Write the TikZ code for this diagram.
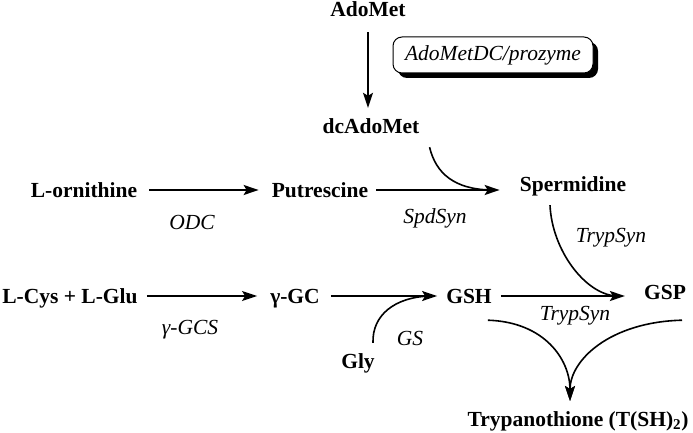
\documentclass[tikz,border=0pt]{standalone}
\usepackage{fontspec}
\setmainfont{Liberation Serif}
\usetikzlibrary{arrows.meta,shadows}
\begin{document}
\begin{tikzpicture}[x=1pt,y=-1pt,
 chem/.style={font=\fontsize{21.5}{25}\selectfont\bfseries, inner sep=0pt, text height=14pt, text depth=0pt},
 enz/.style={font=\fontsize{21.5}{25}\selectfont\itshape, inner sep=0pt},
 ln/.style={line width=1.6pt},
 arr/.style={line width=1.6pt, -{Stealth[length=15pt,width=10pt,inset=3pt]}}]
\useasboundingbox (0,0) rectangle (693,433);
% compounds
\node[chem] (adomet) at (368,10) {AdoMet};
\node[chem] (dcadomet) at (371,126) {dcAdoMet};
\node[chem] (orn) at (84,190) {L-ornithine};
\node[chem] (put) at (320,190) {Putrescine};
\node[chem] (spd) at (573,184) {Spermidine};
\node[chem] (cysglu) at (70,296) {L-Cys + L-Glu};
\node[chem] (gc) at (295,296) {γ-GC};
\node[chem] (gsh) at (469,296) {GSH};
\node[chem] (gsp) at (665,292) {GSP};
\node[chem] (gly) at (358,361) {Gly};
\node[chem] (tryp) at (578,419) {Trypanothione (T(SH)\textsubscript{2})};
% enzymes
\node[enz] (odc) at (192,222) {ODC};
\node[enz] (spdsyn) at (435,218) {SpdSyn};
\node[enz] (ts1) at (611,238) {TrypSyn};
\node[enz] (gcs) at (190,330) {γ-GCS};
\node[enz] (gs) at (410,338) {GS};
\node[enz] (ts2) at (575,316) {TrypSyn};
\node[enz, draw, line width=1pt, rounded corners=9pt, fill=white,
  minimum width=200pt, minimum height=36pt,
  drop shadow={shadow xshift=5pt, shadow yshift=-5pt, opacity=1, fill=black}]
  (dc) at (493,55) {AdoMetDC/prozyme};
% straight arrows
\draw[arr, shorten <=15pt, shorten >=11pt] (adomet.south) -- (adomet.south |- dcadomet.north);
\draw[arr, shorten <=12pt, shorten >=13pt] (orn.east) -- (put.west);
\draw[arr, shorten <=8pt, shorten >=20pt] (put.east) -- (put.east -| spd.west);
\draw[arr, shorten <=9pt, shorten >=13pt] (cysglu.east) -- (gc.west);
\draw[arr, shorten <=11pt, shorten >=9pt] (gc.east) -- (gsh.west);
\draw[arr, shorten <=9pt, shorten >=19pt] (gsh.east) -- (gsh.east -| gsp.west);
% curved side arrows
\draw[ln] ([shift={(10,14)}]dcadomet.south east) .. controls (436,174) and (455,189) .. (490,190);
\draw[ln] ([shift={(-23,14)}]spd.south) .. controls (552,250) and (585,294) .. (616,296);
\draw[ln] ([shift={(15,-11)}]gly.north) .. controls (372,315) and (395,297) .. (430,296);
\coordinate (tip) at (570,401);
\draw[arr] ([shift={(-4,17)}]gsh.south east) .. controls (545,322) and (570,360) .. (tip);
\draw[arr] ([shift={(17,21)}]gsp.south) .. controls (610,322) and (570,360) .. (tip);
\end{tikzpicture}
\end{document}
